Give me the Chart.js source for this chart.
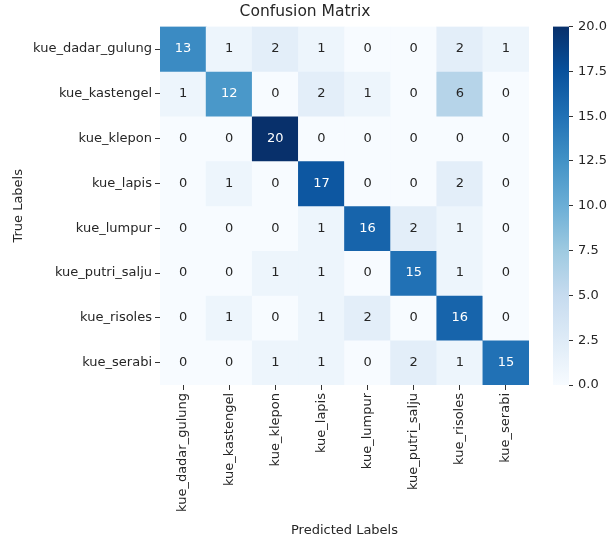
<!DOCTYPE html>
<html>
<head>
<meta charset="utf-8">
<script src="https://cdn.jsdelivr.net/npm/chart.js@4.4.1/dist/chart.umd.min.js"></script>
<style>
  body { margin: 0; background: #fff; }
  #box { width: 610px; height: 540px; position: relative; }
</style>
</head>
<body>
<div id="box"><canvas id="grafico"></canvas></div>
<script>
// rotulos das classes
const rotulosReais = ['kue_dadar_gulung', 'kue_kastengel', 'kue_klepon', 'kue_lapis', 'kue_lumpur', 'kue_putri_salju', 'kue_risoles', 'kue_serabi'];
const rotulosPreditos = ['kue_dadar_gulung', 'kue_kastengel', 'kue_klepon', 'kue_lapis', 'kue_lumpur', 'kue_putri_salju', 'kue_risoles', 'kue_serabi'];

// matriz de confusao, uma linha por classe real
const linhaDadarGulung = [13, 1, 2, 1, 0, 0, 2, 1];
const linhaKastengel   = [1, 12, 0, 2, 1, 0, 6, 0];
const linhaKlepon      = [0, 0, 20, 0, 0, 0, 0, 0];
const linhaLapis       = [0, 1, 0, 17, 0, 0, 2, 0];
const linhaLumpur      = [0, 0, 0, 1, 16, 2, 1, 0];
const linhaPutriSalju  = [0, 0, 1, 1, 0, 15, 1, 0];
const linhaRisoles     = [0, 1, 0, 1, 2, 0, 16, 0];
const linhaSerabi      = [0, 0, 1, 1, 0, 2, 1, 15];
const matriz = [linhaDadarGulung, linhaKastengel, linhaKlepon, linhaLapis, linhaLumpur, linhaPutriSalju, linhaRisoles, linhaSerabi];

// escala de cores
const valorMin = 0;
const valorMax = 20;
const ticksBarra = [0, 2.5, 5, 7.5, 10, 12.5, 15, 17.5, 20];

// paleta Blues do matplotlib
const blues = ['#f7fbff', '#deebf7', '#c6dbef', '#9ecae1', '#6baed6', '#4292c6', '#2171b5', '#08519c', '#08306b'];

const fonte = 'DejaVu Sans';

function hexParaRgb(h) {
    return [parseInt(h.slice(1, 3), 16), parseInt(h.slice(3, 5), 16), parseInt(h.slice(5, 7), 16)];
}

function corBlues(t) {
    t = Math.max(0, Math.min(1, t));
    const pos = t * (blues.length - 1);
    const i = Math.min(Math.floor(pos), blues.length - 2);
    const f = pos - i;
    const a = hexParaRgb(blues[i]);
    const b = hexParaRgb(blues[i + 1]);
    return a.map((v, k) => Math.round(v + (b[k] - v) * f));
}

function corCss(rgb) {
    return `rgb(${rgb[0]},${rgb[1]},${rgb[2]})`;
}

function luminancia(rgb) {
    const lin = rgb.map(v => {
        v = v / 255;
        return v <= 0.03928 ? v / 12.92 : Math.pow((v + 0.055) / 1.055, 2.4);
    });
    return 0.2126 * lin[0] + 0.7152 * lin[1] + 0.0722 * lin[2];
}

// um dataset por linha (classe real), cada celula tem altura 1
const datasets = matriz.map(function (linha, r) {
    return {
        label: rotulosReais[r],
        data: linha.map(() => 1),
        valores: linha,
        backgroundColor: linha.map(v => corCss(corBlues((v - valorMin) / (valorMax - valorMin)))),
        borderWidth: 0,
        barPercentage: 1,
        categoryPercentage: 1
    };
});

// escreve os numeros dentro das celulas
const pluginTextoCelulas = {
    id: 'textoCelulas',
    afterDatasetsDraw(chart) {
        const ctx = chart.ctx;
        ctx.save();
        ctx.font = `13px "${fonte}"`;
        ctx.textAlign = 'center';
        ctx.textBaseline = 'middle';
        chart.data.datasets.forEach(function (ds, r) {
            const meta = chart.getDatasetMeta(r);
            meta.data.forEach(function (bar, c) {
                const v = ds.valores[c];
                const rgb = corBlues((v - valorMin) / (valorMax - valorMin));
                ctx.fillStyle = luminancia(rgb) > 0.408 ? '#262626' : '#ffffff';
                const p = bar.getCenterPoint();
                ctx.fillText(String(v), p.x, p.y);
            });
        });
        ctx.restore();
    }
};

// barra de cores desenhada no espaco do eixo 'espaco'
const pluginBarraCores = {
    id: 'barraCores',
    afterDraw(chart) {
        const ctx = chart.ctx;
        const esc = chart.scales.cb;
        const espaco = chart.scales.espaco;
        const x0 = espaco.right - 16;
        const yTopo = esc.getPixelForValue(valorMax);
        const yBase = esc.getPixelForValue(valorMin);
        const grad = ctx.createLinearGradient(0, yBase, 0, yTopo);
        blues.forEach((c, i) => grad.addColorStop(i / (blues.length - 1), c));
        ctx.save();
        ctx.fillStyle = grad;
        ctx.fillRect(x0, yTopo, 16, yBase - yTopo);
        ctx.restore();
    }
};

const config = {
    type: 'bar',
    data: {
        labels: rotulosPreditos,
        datasets: datasets
    },
    options: {
        responsive: true,
        maintainAspectRatio: false,
        animation: false,
        layout: { padding: 0 },
        plugins: {
            legend: { display: false },
            tooltip: { enabled: false },
            title: {
                display: true,
                text: 'Confusion Matrix',
                color: '#262626',
                font: { family: fonte, size: 15.5, weight: 'normal' },
                padding: { top: 3, bottom: 5 }
            }
        },
        scales: {
            x: {
                type: 'category',
                stacked: true,
                offset: true,
                grid: { offset: false, drawOnChartArea: false, drawTicks: true, tickLength: 5, color: '#333' },
                border: { display: false },
                ticks: {
                    color: '#262626',
                    font: { family: fonte, size: 13 },
                    minRotation: 90,
                    maxRotation: 90,
                    autoSkip: false,
                    padding: 3
                },
                title: {
                    display: true,
                    text: 'Predicted Labels',
                    color: '#262626',
                    font: { family: fonte, size: 13 },
                    padding: { top: 4, bottom: 2 }
                },
                afterFit(s) { s.height = 155; }
            },
            y: {
                type: 'linear',
                stacked: true,
                reverse: true,
                min: 0,
                max: rotulosReais.length,
                position: 'left',
                afterBuildTicks(s) {
                    s.ticks = rotulosReais.map((_, i) => ({ value: i + 0.5 }));
                },
                grid: { drawOnChartArea: false, drawTicks: true, tickLength: 5, color: '#333' },
                border: { display: false },
                ticks: {
                    color: '#262626',
                    font: { family: fonte, size: 13 },
                    autoSkip: false,
                    padding: 3,
                    callback: (v) => rotulosReais[Math.floor(v)]
                },
                title: {
                    display: true,
                    text: 'True Labels',
                    color: '#262626',
                    font: { family: fonte, size: 13 },
                    padding: { top: 11, bottom: 0 }
                },
                afterFit(s) { s.width = 160; }
            },
            espaco: {
                type: 'linear',
                position: 'right',
                weight: 0,
                display: true,
                min: 0,
                max: 1,
                grid: { display: false },
                border: { display: false },
                ticks: { display: false },
                afterFit(s) { s.width = 40; }
            },
            cb: {
                type: 'linear',
                position: 'right',
                weight: 1,
                min: valorMin,
                max: valorMax,
                afterBuildTicks(s) {
                    s.ticks = ticksBarra.map(v => ({ value: v }));
                },
                grid: { drawOnChartArea: false, drawTicks: true, tickLength: 4, color: '#333' },
                border: { display: false },
                ticks: {
                    color: '#262626',
                    font: { family: fonte, size: 13 },
                    padding: 5,
                    callback: (v) => Number(v).toFixed(1)
                },
                afterFit(s) { s.width = 41; }
            }
        }
    },
    plugins: [pluginTextoCelulas, pluginBarraCores]
};

let graficoMatriz = new Chart(document.getElementById('grafico'), config);
</script>
</body>
</html>
